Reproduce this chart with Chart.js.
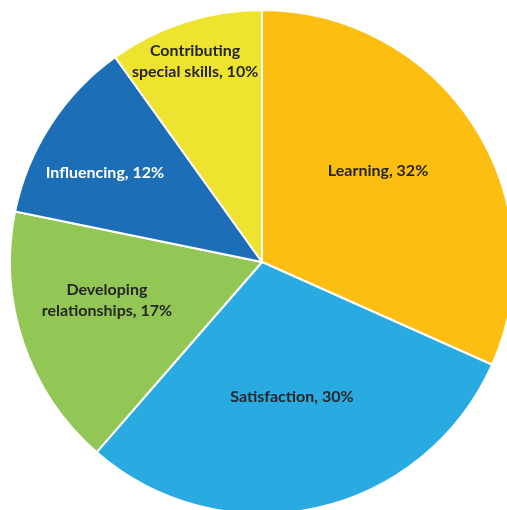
<!DOCTYPE html>
<html>
<head>
<meta charset="utf-8">
<title>Motivation factors</title>
<script src="https://cdn.jsdelivr.net/npm/chart.js@4"></script>
<style>
  html, body { margin: 0; padding: 0; background: #fff; overflow: hidden; }
  #wrap { position: absolute; left: 0; top: 0; width: 524px; height: 524px; }
</style>
</head>
<body>
<div id="wrap"><canvas id="pie" width="524" height="524"></canvas></div>
<script>
const categories = ['Learning', 'Satisfaction', 'Developing relationships', 'Influencing', 'Contributing special skills'];
const shares     = [32, 30, 17, 12, 10];
const colors     = ['#FDBE12', '#29ABE2', '#92C755', '#1C6EB7', '#EEE430'];

// label text lines per slice
const labelLines = [
  ['Learning, 32%'],
  ['Satisfaction, 30%'],
  ['Developing', 'relationships, 17%'],
  ['Influencing, 12%'],
  ['Contributing', 'special skills, 10%'],
];
// where each label sits: fraction of radius, and angle nudge in degrees
const labelRadius = [0.585, 0.55, 0.634, 0.716, 0.84];
const labelNudge  = [-5.1, 0, 4.8, -3.5, -0.6];
const labelColors = ['#262626', '#262626', '#262626', '#ffffff', '#262626'];

const sliceLabels = {
  id: 'sliceLabels',
  afterDatasetsDraw(chart) {
    const ctx = chart.ctx;
    const arcs = chart.getDatasetMeta(0).data;
    ctx.save();
    ctx.font = 'bold 16px Lato, "Open Sans", sans-serif';
    ctx.textAlign = 'center';
    ctx.textBaseline = 'middle';
    arcs.forEach((arc, i) => {
      const p = arc.getProps(['x', 'y', 'startAngle', 'endAngle', 'outerRadius'], true);
      const a = (p.startAngle + p.endAngle) / 2 + labelNudge[i] * Math.PI / 180;
      const r = p.outerRadius * labelRadius[i];
      const x = p.x + Math.cos(a) * r;
      const y = p.y + Math.sin(a) * r;
      const lines = labelLines[i];
      const lh = 21;
      ctx.fillStyle = labelColors[i];
      lines.forEach((t, j) => {
        ctx.fillText(t, x, y + (j - (lines.length - 1) / 2) * lh);
      });
    });
    ctx.restore();
  },
};

new Chart(document.getElementById('pie'), {
  type: 'pie',
  data: {
    labels: categories,
    datasets: [{
      data: shares,
      backgroundColor: colors,
      borderColor: '#fff',
      borderWidth: 2,
    }],
  },
  options: {
    responsive: false,
    animation: false,
    layout: { padding: 9 },
    plugins: {
      legend: { display: false },
      tooltip: { enabled: false },
    },
  },
  plugins: [sliceLabels],
});
</script>
</body>
</html>
